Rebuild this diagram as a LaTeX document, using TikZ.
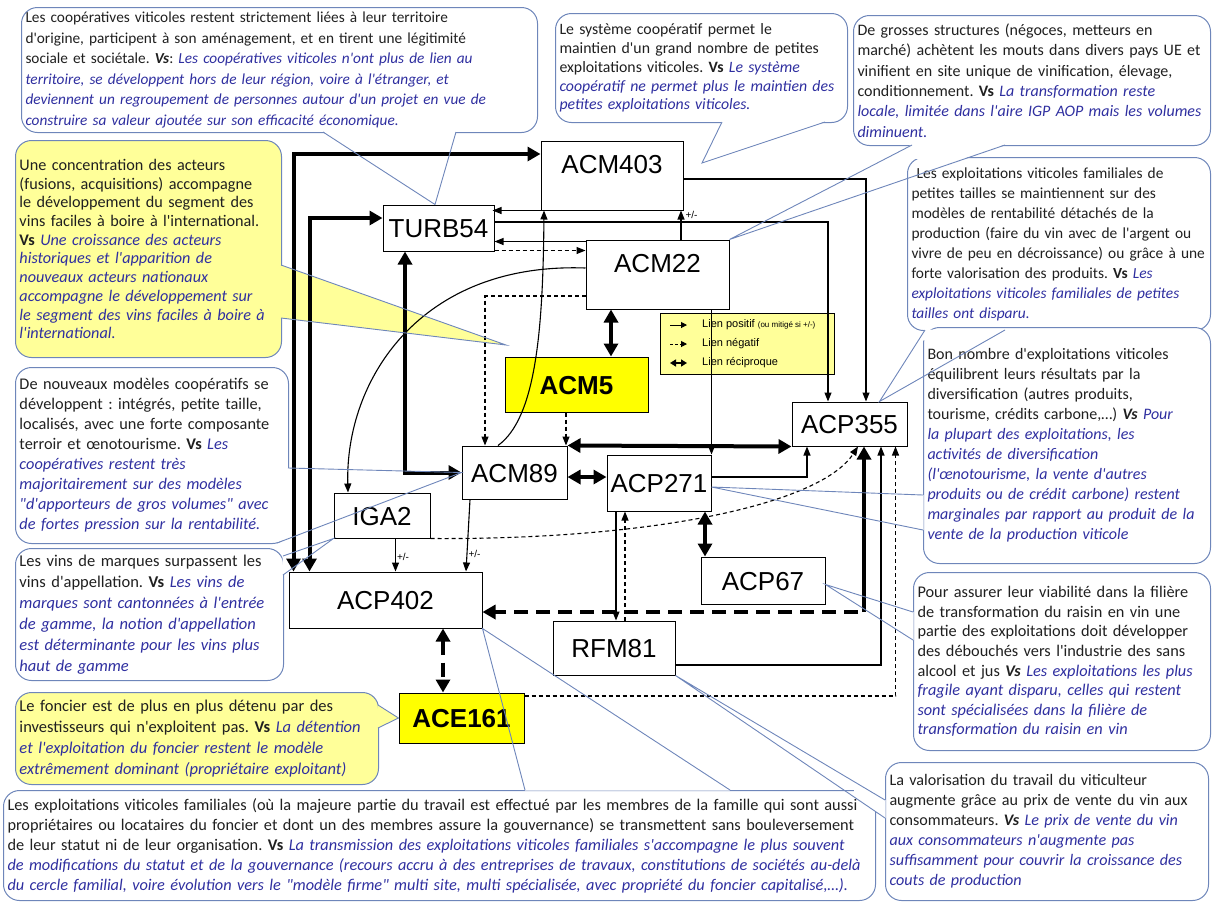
\documentclass[tikz,border=0pt]{standalone}
\usepackage{fontspec}
\setmainfont{Carlito}[Ligatures=TeXOff]
\newfontfamily\boxfont{Liberation Sans}
\usepackage{xcolor}
\usetikzlibrary{arrows.meta,calc}
\pgfdeclarelayer{notes}
\pgfsetlayers{notes,main}
\definecolor{vsblue}{HTML}{2F2FA0}
\definecolor{callline}{HTML}{6E86BA}
\definecolor{calltxt}{HTML}{202020}
\definecolor{keyyellow}{HTML}{FFFF00}
\definecolor{noteyellow}{HTML}{FFFF99}
\newcommand{\vs}[1]{\textcolor{vsblue}{\itshape #1}}
\newcommand{\fsz}[2]{\fontsize{#1}{#2}\selectfont}
% hides the note border where a pointer leaves it
\newcommand{\wedgecut}[3]{\fill[white] (#1) -- ($(#1)!.15!(#3)$) -- ($(#2)!.15!(#3)$) -- (#2) -- cycle;}
\frenchspacing

\begin{document}
\begin{tikzpicture}[x=1pt, y=-1pt,
    box/.style={draw, line width=1pt, fill=white, inner sep=0pt, text height=19pt, text depth=0pt,
      font=\boxfont\fsz{26}{28}},
    topbox/.style={box, text depth=24pt},
    keybox/.style={box, fill=keyyellow, font=\boxfont\bfseries\fsz{26}{28}},
    note/.style={draw=callline, line width=1pt, fill=white, rounded corners=16pt,
      anchor=north west, align=left, inner xsep=4pt, inner ysep=0pt, text=calltxt},
    yellownote/.style={note, fill=noteyellow},
    pointer/.style={draw=callline, line width=0.9pt},
    poslink/.style={line width=1.1pt, -{Triangle[length=9pt,width=7pt]}},
    neglink/.style={poslink, dash pattern=on 4pt off 3pt},
    recip/.style={line width=4pt, {Triangle[length=13pt,width=14pt]}-{Triangle[length=13pt,width=14pt]}},
    recipneg/.style={recip, dash pattern=on 14pt off 8pt},
    mixed/.style={font=\boxfont\fsz{10}{11}, inner sep=1pt},
    legtext/.style={font=\boxfont\fsz{11}{12}, inner sep=0pt, anchor=west}]
  \useasboundingbox (0,0) rectangle (1216,903);

  % variables
  \node[topbox, minimum width=142pt, minimum height=69pt] (ACM403) at (612,175.5) {ACM403};
  \node[box, minimum width=111pt, minimum height=46pt] (TURB54) at (438.5,228) {TURB54};
  \node[topbox, minimum width=143pt, minimum height=69pt] (ACM22) at (657.5,274.5) {ACM22};
  \node[keybox, minimum width=143pt, minimum height=55pt] (ACM5) at (576.5,384.5) {ACM5};
  \node[box, minimum width=115pt, minimum height=44pt] (ACP355) at (849.5,424) {ACP355};
  \node[box, minimum width=105pt, minimum height=53pt] (ACM89) at (514.5,472.5) {ACM89};
  \node[box, minimum width=104pt, minimum height=56pt] (ACP271) at (659,483) {ACP271};
  \node[box, minimum width=96pt, minimum height=45pt] (IGA2) at (382,515.5) {IGA2};
  \node[box, minimum width=193pt, minimum height=56pt] (ACP402) at (385.5,600) {ACP402};
  \node[box, minimum width=124pt, minimum height=47pt] (ACP67) at (763,580.5) {ACP67};
  \node[box, minimum width=122pt, minimum height=54pt] (RFM81) at (614,648) {RFM81};
  \node[keybox, minimum width=125pt, minimum height=50pt] (ACE161) at (461.5,718) {ACE161};

  % legend
  \node[draw, line width=1pt, fill=noteyellow, minimum width=174pt, minimum height=61pt, inner sep=0pt] (legend) at (747,343.5) {};
  \node[legtext] (lg1) at (702,325) {Lien positif {\fsz{8}{9}(ou mitigé si +/-)}};
  \node[legtext] (lg2) at (702,344) {Lien négatif};
  \node[legtext] (lg3) at (702,363) {Lien réciproque};
  \draw[line width=1pt, -{Triangle[length=6pt,width=6pt]}] ([xshift=-32pt]lg1.west) -- ([xshift=-15pt]lg1.west);
  \draw[line width=1pt, dash pattern=on 3pt off 2pt, -{Triangle[length=6pt,width=6pt]}] ([xshift=-32pt]lg2.west) -- ([xshift=-15pt]lg2.west);
  \draw[line width=2.4pt, {Triangle[length=6pt,width=7pt]}-{Triangle[length=6pt,width=7pt]}] ([xshift=-32pt]lg3.west) -- ([xshift=-15pt]lg3.west);

  % reciprocal links
  \draw[recip] ([yshift=21.5pt]ACM403.west) -| ([xshift=5pt]ACP402.north west);
  \draw[recip] ([yshift=10pt]TURB54.west) -| ([xshift=21pt]ACP402.north west);
  \draw[recip] ([xshift=-33.5pt]TURB54.south) |- (ACM89.west);
  \draw[recip] ([xshift=-46.5pt]ACM22.south) -- ([xshift=-46.5pt]ACM22.south |- ACM5.north);
  \draw[recip] (ACM89.north east) -- (ACP355.south west);
  \draw[recip] ([yshift=6pt]ACP271.west -| ACM89.east) -- ([yshift=6pt]ACP271.west);
  \draw[recip] ([xshift=46pt]ACP271.south) -- ([xshift=46pt]ACP271.south |- ACP67.north);
  \draw[recipneg] ([xshift=57.5pt]ACP402.south) -- ([xshift=57.5pt]ACP402.south |- ACE161.north);
  \coordinate (J) at (864,612);
  \draw[line width=4pt, -{Triangle[length=13pt,width=14pt]}] (J) -- (J |- ACP355.south);
  \draw[line width=4pt, dash pattern=on 14pt off 8pt, -{Triangle[length=13pt,width=14pt]}] ([xshift=-6pt]J) -- (J -| ACP402.east);

  % simple links
  \draw[poslink] ([xshift=13.5pt]IGA2.south) -- ([xshift=13.5pt]IGA2.south |- ACP402.north) node[mixed, pos=0.55, right] {+/-};
  \draw[poslink] ([xshift=-44.5pt]ACM89.south) -- ([xshift=80.5pt]ACP402.north) node[mixed, pos=0.75, right] {+/-};
  \draw[poslink] ([xshift=23.5pt]ACM22.north) -- ([xshift=23.5pt]ACM22.north |- ACM403.south) node[mixed, pos=0.85, right=3pt] {+/-};
  \draw[poslink] ([yshift=-3.5pt]ACM403.east) -| ([xshift=16.5pt]ACP355.north);
  \draw[poslink] ([yshift=6pt]TURB54.east) -| ([xshift=-21.5pt]ACP355.north);
  \draw[poslink] ([xshift=-2pt]ACM403.south east) -- ([xshift=-2pt]ACM403.south east -| TURB54.east);
  \draw[poslink] ([yshift=-2pt]ACM22.north west) -- ([yshift=-2pt]ACM22.north west -| TURB54.east);
  \draw[neglink] ([yshift=1pt]TURB54.south east) -- ([yshift=1pt]TURB54.south east -| ACM22.west);
  \draw[neglink] ([yshift=-21.5pt]ACM22.west) -| ([xshift=-29.5pt]ACM89.north);
  \draw[neglink] ([xshift=-10.5pt]ACM5.south) -- ([xshift=-10.5pt]ACM5.south |- ACM89.north);
  \draw[poslink] ([xshift=-16.5pt]ACM89.north) .. controls (536,418) and (543,330) .. ([xshift=-68pt]ACM403.south);
  \draw[poslink] ([yshift=6.5pt]ACM22.west) .. controls (420,262) and (345,380) .. ([xshift=-34pt]IGA2.north);
  \draw[neglink] (IGA2.south east) .. controls (650,540) and (820,505) .. ([xshift=8.5pt]ACP355.south);
  \draw[poslink] ([xshift=2pt]RFM81.north |- ACP271.south) -- ([xshift=2pt]RFM81.north);
  \draw[neglink] ([xshift=11pt]RFM81.north) -- ([xshift=11pt]RFM81.north |- ACP271.south);
  \draw[poslink] (ACP271.north east |- ACM22.south) -- (ACP271.north east);
  \draw[poslink] ([yshift=6pt]ACP271.east) -| ([xshift=-42.5pt]ACP355.south);
  \draw[poslink] ([yshift=-17pt]RFM81.east) -| ([xshift=31.5pt]ACP355.south);
  \draw[neglink] ([yshift=22pt]ACE161.east) -| ([xshift=46pt]ACP355.south);

  % pointer tips
  \coordinate (tipC1) at ([xshift=-3.5pt]TURB54.north);
  \coordinate (tipC2) at (702,163);
  \coordinate (tipC3) at (ACM22.north east);
  \coordinate (tipC4) at ([xshift=30pt]ACP355.north);
  \coordinate (tipC5) at ([yshift=-4pt]ACP271.east);
  \coordinate (tipC6) at ([yshift=-4pt]ACP67.east);
  \coordinate (tipC7) at (RFM81.south east);
  \coordinate (tipC8) at (506,345);
  \coordinate (tipC9) at (ACM89.west);
  \coordinate (tipC10) at (IGA2.south west);
  \coordinate (tipC11) at (ACE161.west);
  \coordinate (tipC12) at (ACP402.south east);

  % notes
  \begin{pgfonlayer}{notes}
  \node[note, text width=508pt, minimum height=125pt, font=\fsz{15.3}{20.5}] (c1) at (21,7) {Les coopératives viticoles restent strictement liées à leur territoire\\
    d'origine, participent à son aménagement,  et en tirent une légitimité\\
    sociale et sociétale. \textbf{\textit{Vs}}: \vs{Les coopératives  viticoles n'ont plus de lien au}\\
    \vs{territoire,  se développent hors de leur région, voire à l'étranger,  et}\\
    \vs{deviennent un regroupement  de personnes autour d'un projet  en vue de}\\
    \vs{construire  sa valeur ajoutée sur son efficacité  économique.}};
  \node[note, text width=284pt, minimum height=109pt, font=\fsz{15.8}{18.8}] (c2) at (555,13) {Le système coopératif permet  le\\
    maintien d'un grand nombre de petites\\
    exploitations viticoles. \textbf{Vs} \vs{Le système}\\
    \vs{coopératif ne permet plus le maintien des}\\
    \vs{petites  exploitations viticoles.}};
  \node[note, text width=349pt, minimum height=130pt, font=\fsz{16}{20.3}] (c3) at (853,15) {De grosses structures (négoces, metteurs  en\\
    marché) achètent  les mouts dans divers pays UE et\\
    vinifient en site unique de vinification, élevage,\\
    conditionnement. \textbf{Vs} \vs{La transformation reste}\\
    \vs{locale, limitée dans l'aire IGP AOP mais les volumes}\\
    \vs{diminuent.}};
  \node[note, text width=295pt, minimum height=173pt, font=\fsz{15.4}{20}] (c4) at (907,157) {\ Les exploitations viticoles familiales de\\
    petites tailles se maintiennent sur des\\
    modèles de rentabilité détachés de  la\\
    production (faire du vin avec de  l'argent ou\\
    vivre de  peu  en décroissance) ou grâce à une\\
    forte valorisation des produits. \textbf{Vs} \vs{Les}\\
    \vs{exploitations viticoles  familiales de  petites}\\
    \vs{tailles ont disparu.}};
  \node[note, text width=279pt, minimum height=236pt, font=\fsz{16}{20}] (c5) at (923,327) {Bon nombre  d'exploitations viticoles\\
    équilibrent leurs résultats par la\\
    diversification (autres produits,\\
    tourisme, crédits carbone,\dots) \textbf{\textit{Vs}} \vs{Pour}\\
    \vs{la plupart des exploitations, les}\\
    \vs{activités  de diversification}\\
    \vs{(l'œnotourisme, la vente  d'autres}\\
    \vs{produits ou de crédit  carbone) restent}\\
    \vs{marginales par rapport au produit de la}\\
    \vs{vente de la production viticole}};
  \node[note, text width=289pt, minimum height=178pt, font=\fsz{16.3}{19.6}] (c6) at (913,572) {Pour assurer leur viabilité dans la filière\\
    de transformation du raisin en vin une\\
    partie des exploitations doit développer\\
    des débouchés vers l'industrie des sans\\
    alcool et jus \textbf{\textit{Vs}} \vs{Les exploitations les plus}\\
    \vs{fragile ayant disparu,  celles qui restent}\\
    \vs{sont spécialisées  dans la filière  de}\\
    \vs{transformation  du raisin  en vin}};
  \node[note, text width=315pt, minimum height=138pt, font=\fsz{16.1}{20}] (c7) at (885,762) {La valorisation du travail du viticulteur\\
    augmente  grâce au prix de vente  du vin aux\\
    consommateurs. \textbf{\textit{Vs}} \vs{Le prix de vente du vin}\\
    \vs{aux consommateurs  n'augmente pas}\\
    \vs{suffisamment  pour couvrir la croissance des}\\
    \vs{couts de production}};
  \node[yellownote, text width=258pt, minimum height=217pt, font=\fsz{16.2}{18.7}] (c8) at (15,140) {Une concentration des acteurs\\
    (fusions, acquisitions) accompagne\\
    le développement  du segment  des\\
    vins faciles à boire à l'international.\\
    \textbf{Vs} \vs{Une croissance des acteurs}\\
    \vs{historiques et l'apparition de}\\
    \vs{nouveaux acteurs  nationaux}\\
    \vs{accompagne le développement sur}\\
    \vs{le segment  des vins faciles à boire à}\\
    \vs{l'international.}};
  \node[note, text width=265pt, minimum height=176pt, font=\fsz{16.3}{20}] (c9) at (15,367) {De nouveaux modèles coopératifs se\\
    développent : intégrés, petite  taille,\\
    localisés, avec une forte composante\\
    terroir et œnotourisme. \textbf{Vs} \vs{Les}\\
    \vs{coopératives  restent  très}\\
    \vs{majoritairement  sur des modèles}\\
    \vs{"d'apporteurs de gros volumes" avec}\\
    \vs{de fortes pression sur la rentabilité.}};
  \node[note, text width=260pt, minimum height=132pt, font=\fsz{16.5}{21}] (c10) at (15,548) {Les vins de marques surpassent les\\
    vins d'appellation. \textbf{Vs} \vs{Les vins de}\\
    \vs{marques sont cantonnées à l'entrée}\\
    \vs{de gamme, la notion d'appellation}\\
    \vs{est déterminante  pour les vins plus}\\
    \vs{haut de gamme}};
  \node[yellownote, text width=355pt, minimum height=92pt, font=\fsz{16.5}{21}] (c11) at (15,692) {Le foncier est de plus en plus détenu par des\\
    investisseurs qui n'exploitent pas. \textbf{Vs} \vs{La détention}\\
    \vs{et l'exploitation du foncier restent  le modèle}\\
    \vs{extrêmement  dominant (propriétaire  exploitant)}};
  \node[note, text width=864pt, minimum height=110pt, font=\fsz{16.3}{20}] (c12) at (3,790) {Les exploitations viticoles familiales (où la majeure partie du travail est effectué  par les membres  de  la famille qui sont aussi\\
    propriétaires ou locataires du foncier et dont un des membres  assure la gouvernance) se transmettent  sans bouleversement\\
    de  leur statut ni de  leur organisation. \textbf{Vs} \vs{La transmission  des exploitations viticoles  familiales s'accompagne  le plus souvent}\\
    \vs{de modifications du statut et de la gouvernance (recours  accru à des entreprises  de travaux,  constitutions de sociétés  au-delà}\\
    \vs{du cercle  familial, voire évolution vers le "modèle  firme" multi site, multi spécialisée,  avec propriété du foncier capitalisé,\dots).}};

  % pointer wedges (fill)
  \wedgecut{323,131.5}{456,131.5}{tipC1}
  \wedgecut{722,121.5}{825,121.5}{tipC2}
  \wedgecut{912,144.5}{1005,144.5}{tipC3}
  \wedgecut{925,329.5}{1005,329.5}{tipC4}
  \wedgecut{923.5,495}{923.5,530}{tipC5}
  \wedgecut{913.5,612}{913.5,640}{tipC6}
  \wedgecut{885.5,800}{885.5,818}{tipC7}
  \fill[noteyellow] (280.5,265) -- (tipC8) -- (280.5,318) -- cycle;
  \wedgecut{287.5,468}{277,542.5}{tipC9}
  \wedgecut{282.5,556}{282.5,575}{tipC10}
  \fill[noteyellow] (377.5,705) -- (tipC11) -- (377.5,728) -- cycle;
  \wedgecut{525,790.5}{730,790.5}{tipC12}
  \end{pgfonlayer}

  % pointer wedges (outline)
  \draw[pointer] (323,132) -- (tipC1) -- (456,132);
  \draw[pointer] (722,122) -- (tipC2) -- (825,122);
  \draw[pointer] (912,145) -- (tipC3) -- (1005,145);
  \draw[pointer] (925,330) -- (tipC4) -- (1005,330);
  \draw[pointer] (923,495) -- (tipC5) -- (923,530);
  \draw[pointer] (913,612) -- (tipC6) -- (913,640);
  \draw[pointer] (885,800) -- (tipC7) -- (885,818);
  \draw[pointer] (281,265) -- (tipC8) -- (281,318);
  \draw[pointer] (288,468) -- (tipC9) -- (277,543);
  \draw[pointer] (283,556) -- (tipC10) -- (283,575);
  \draw[pointer] (378,705) -- (tipC11) -- (378,728);
  \draw[pointer] (525,790) -- (tipC12) -- (730,790);
\end{tikzpicture}
\end{document}
